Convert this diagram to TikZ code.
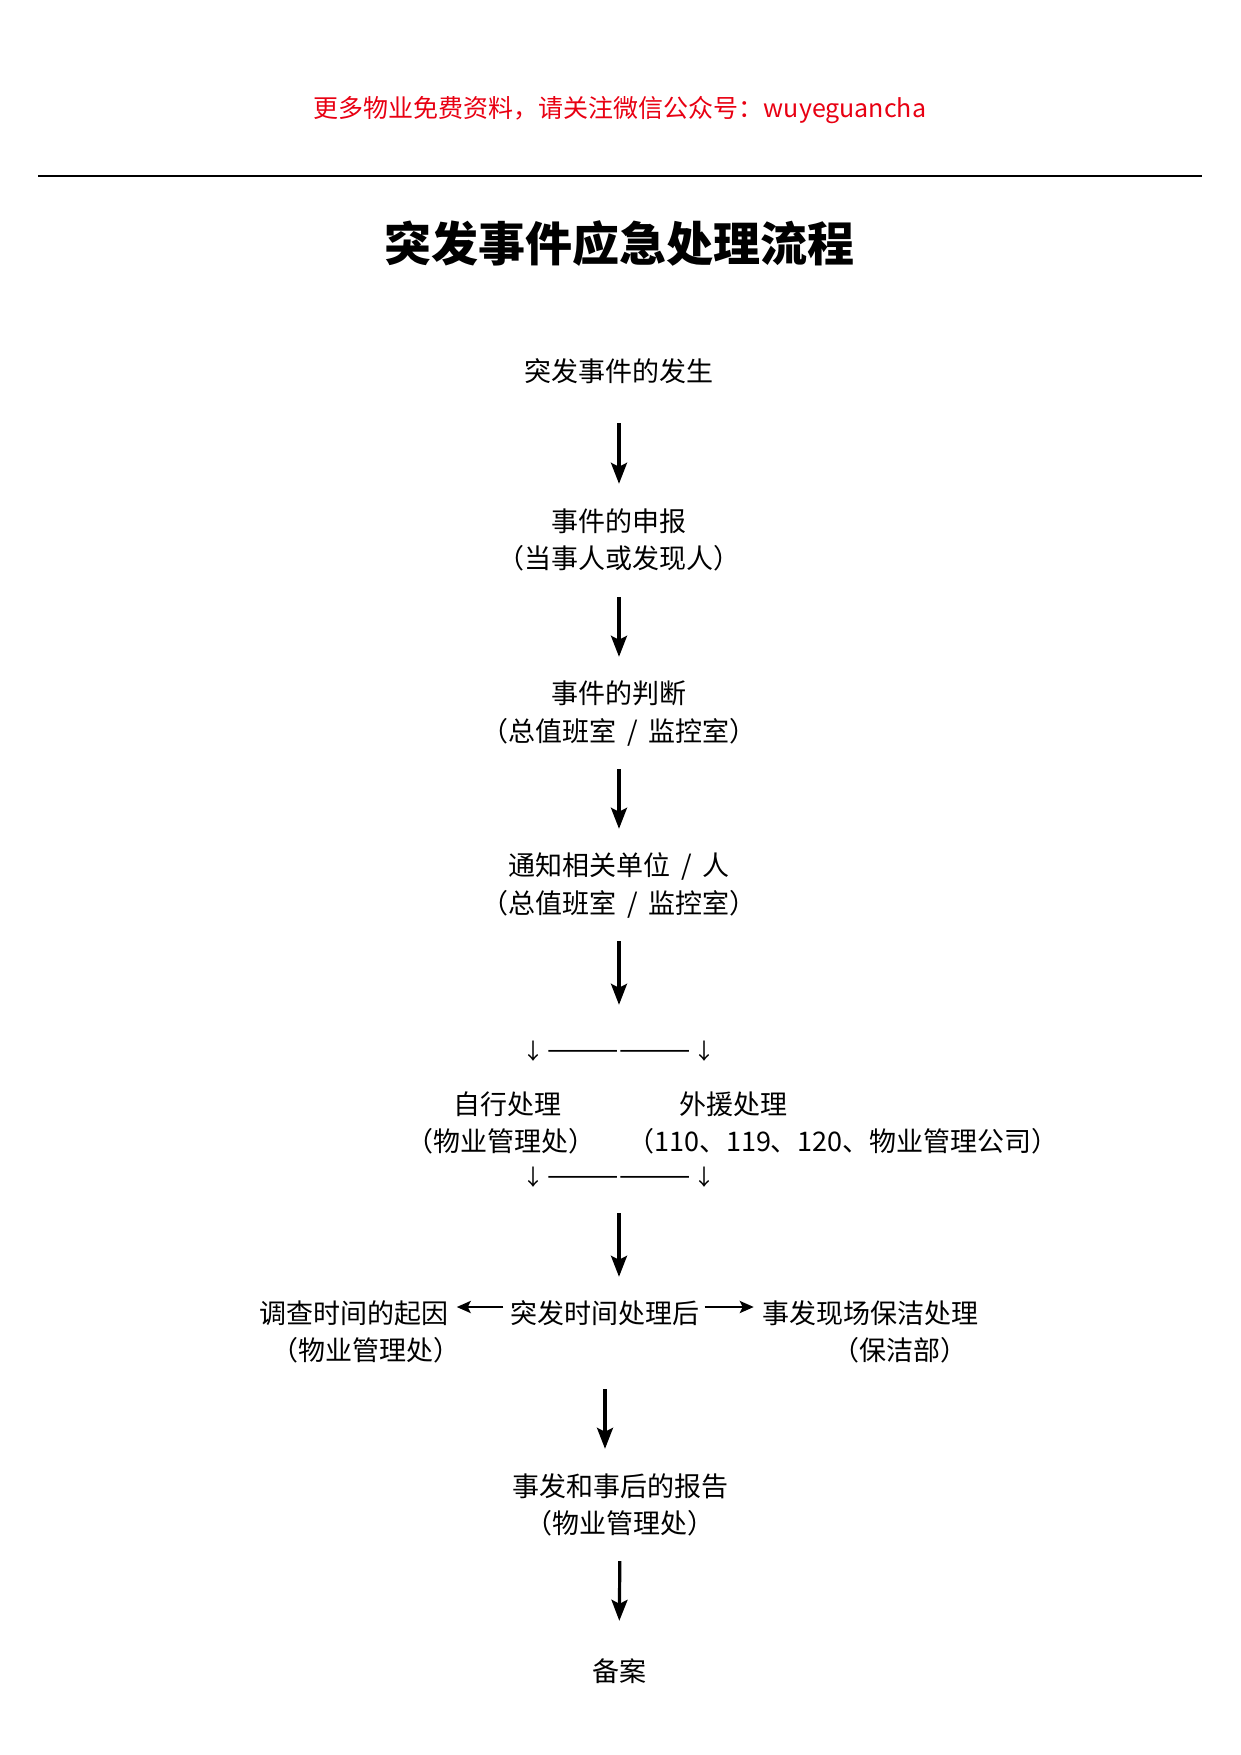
\documentclass[tikz,border=0pt]{standalone}
\usepackage{fontspec}
\newfontfamily\cjk{Noto Sans CJK SC}
\usetikzlibrary{arrows.meta}
\definecolor{hdrred}{RGB}{232,0,18}
\begin{document}
\begin{tikzpicture}[x=1pt,y=-1pt,
  txt/.style={inner sep=0pt,font=\cjk\fontsize{27}{32}\selectfont,text height=22pt,text depth=6pt},
  ticks/.style={inner sep=0pt,font=\cjk\fontsize{22}{26}\selectfont,text height=18pt,text depth=4pt},
  arr/.style={line width=3.2pt,-{Stealth[length=21pt,width=16pt,inset=4pt]}},
  harr/.style={line width=2.8pt,-{Stealth[length=14pt,width=12pt,inset=3pt]}}]
\useasboundingbox (0,0) rectangle (1240,1755);
\node[inner sep=0pt,text=hdrred,font=\cjk\fontsize{25}{30}\selectfont] (hdr) at (620,110) {更多物业免费资料，请关注微信公众号：wuyeguancha};
\coordinate (rl) at (38,176);
\coordinate (rr) at (1202,176);
\draw[line width=1.4pt] (rl) -- (rr);
\node[inner sep=0pt,font=\cjk\bfseries\fontsize{47}{54}\selectfont] (title) at (619,244) {突发事件应急处理流程};

\node[txt] (n1) at (619,373) {突发事件的发生};
\node[txt] (n2) at (619,523) {事件的申报};
\node[txt] (n2b) at (619,560) {（当事人或发现人）};
\node[txt] (n3) at (619,695) {事件的判断};
\node[txt] (n3b) at (619,733) {（总值班室 \,/\, 监控室）};
\node[txt] (n4) at (619,867) {通知相关单位 \,/\, 人};
\node[txt] (n4b) at (619,905) {（总值班室 \,/\, 监控室）};
\node[ticks] (t1) at (619,1052) {↓\,{\fontsize{29}{30}\selectfont ——————}\,↓};
\node[txt] (sa) at (507,1106) {自行处理};
\node[txt] (sab) at (501,1143) {（物业管理处）};
\node[txt] (sb) at (733,1106) {外援处理};
\node[txt] (sbb) at (843,1143) {（110、119、120、物业管理公司）};
\node[ticks] (t2) at (619,1178) {↓\,{\fontsize{29}{30}\selectfont ——————}\,↓};
\node[txt] (mid) at (605,1315) {突发时间处理后};
\node[txt] (lft) at (354,1315) {调查时间的起因};
\node[txt] (lftb) at (366,1352) {（物业管理处）};
\node[txt] (rgt) at (870,1315) {事发现场保洁处理};
\node[txt] (rgtb) at (900,1352) {（保洁部）};
\node[txt] (n7) at (620,1488) {事发和事后的报告};
\node[txt] (n7b) at (620,1525) {（物业管理处）};
\node[txt] (n8) at (619,1673) {备案};

\draw[arr,shorten <=36pt,shorten >=25pt] (n1.south) -- (n2.north);
\draw[arr,shorten <=23pt,shorten >=24pt] (n2b.south) -- (n3.north);
\draw[arr,shorten <=22pt,shorten >=24pt] (n3b.south) -- (n4.north);
\draw[arr,shorten <=22pt,shorten >=36pt] (n4b.south) -- (t1.north -| n4b.south);
\draw[arr,shorten <=24pt,shorten >=24pt] (t2.south -| n4b.south) -- (mid.north -| n4b.south);
\draw[arr,shorten <=60pt,shorten >=25pt] (mid.south) -- (mid.south |- n7.north);
\draw[arr,shorten <=22pt,shorten >=38pt] (n7b.south) -- (n8.north);
\draw[harr,shorten <=7pt,shorten >=8pt] ([yshift=8pt]mid.west) -- ([yshift=8pt]lft.east);
\draw[harr,shorten <=5pt,shorten >=8pt] ([yshift=8pt]mid.east) -- ([yshift=8pt]rgt.west);
\end{tikzpicture}
\end{document}
